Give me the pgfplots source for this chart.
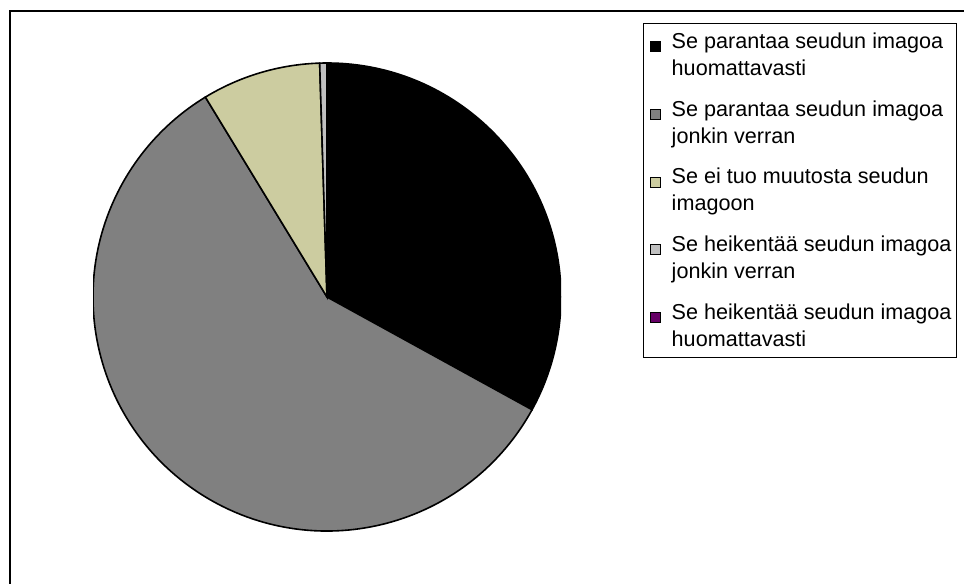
\documentclass[border=0pt]{standalone}
\usepackage{pgfplots}
\pgfplotsset{compat=1.18}
\usepackage{fontspec}
\setmainfont{Liberation Sans}
\definecolor{cA}{RGB}{0,0,0}
\definecolor{cB}{RGB}{128,128,128}
\definecolor{cC}{RGB}{204,204,160}
\definecolor{cD}{RGB}{192,192,192}
\definecolor{cE}{RGB}{102,0,102}
\begin{document}
\begin{tikzpicture}
\useasboundingbox (0pt,0pt) rectangle (723pt,437.25pt);
\draw[line width=1.5pt] (7.5pt,-5pt) -- (7.5pt,429pt) -- (730pt,429pt);
% values in percent, clockwise from 12 o'clock
\pgfmathsetmacro{\vA}{33.0}
\pgfmathsetmacro{\vB}{58.3}
\pgfmathsetmacro{\vC}{8.2}
\pgfmathsetmacro{\vD}{0.5}
\pgfmathsetmacro{\vE}{0.0}
\pgfmathsetmacro{\aA}{90}
\pgfmathsetmacro{\aB}{\aA-3.6*\vA}
\pgfmathsetmacro{\aC}{\aB-3.6*\vB}
\pgfmathsetmacro{\aD}{\aC-3.6*\vC}
\pgfmathsetmacro{\aE}{\aD-3.6*\vD}
\pgfmathsetmacro{\aF}{\aE-3.6*\vE}
\begin{axis}[
  at={(245.25pt,214.5pt)}, anchor=center,
  width=351pt, height=351pt, scale only axis,
  xmin=-1, xmax=1, ymin=-1, ymax=1,
  hide axis,
  legend style={at={(1.175,1.0855)}, anchor=north west, draw=black, line width=0.75pt,
    inner xsep=5pt, inner ysep=5pt, column sep=6pt,
    row sep=13.25pt, nodes={align=left, inner sep=2pt, font=\fontsize{16.2}{18.75}\selectfont}},
  legend cell align=left,
  legend image code/.code={\draw[#1, draw=black, line width=0.75pt] (0pt,2.5pt) rectangle (7.5pt,10pt);},
]
\filldraw[fill=cA, draw=black, line width=1.2pt] (axis cs:0,0) -- (axis cs:{cos(\aA)},{sin(\aA)}) arc[start angle=\aA, end angle=\aB, radius=175.5pt] -- cycle;
\filldraw[fill=cB, draw=black, line width=1.2pt] (axis cs:0,0) -- (axis cs:{cos(\aB)},{sin(\aB)}) arc[start angle=\aB, end angle=\aC, radius=175.5pt] -- cycle;
\filldraw[fill=cC, draw=black, line width=1.2pt] (axis cs:0,0) -- (axis cs:{cos(\aC)},{sin(\aC)}) arc[start angle=\aC, end angle=\aD, radius=175.5pt] -- cycle;
\filldraw[fill=cD, draw=black, line width=1.2pt] (axis cs:0,0) -- (axis cs:{cos(\aD)},{sin(\aD)}) arc[start angle=\aD, end angle=\aE, radius=175.5pt] -- cycle;
\addlegendimage{fill=cA}
\addlegendentry{Se parantaa seudun imagoa\\[1.5pt]huomattavasti}
\addlegendimage{fill=cB}
\addlegendentry{Se parantaa seudun imagoa\\[1.5pt]jonkin verran}
\addlegendimage{fill=cC}
\addlegendentry{Se ei tuo muutosta seudun\\[1.5pt]imagoon}
\addlegendimage{fill=cD}
\addlegendentry{Se heikentää seudun imagoa\hspace*{-3pt}\\[1.5pt]jonkin verran}
\addlegendimage{fill=cE}
\addlegendentry{Se heikentää seudun imagoa\hspace*{-3pt}\\[1.5pt]huomattavasti}
\end{axis}
\end{tikzpicture}
\end{document}
